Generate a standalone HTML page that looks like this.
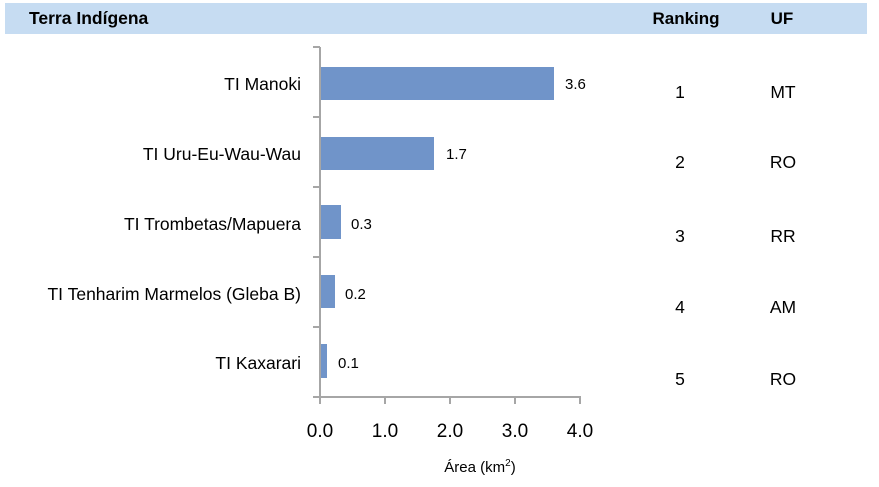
<!DOCTYPE html><html><head><style>
body{margin:0;width:879px;height:482px;background:#fff;overflow:hidden;font-family:"Liberation Sans",sans-serif;}
</style></head><body>
<svg width="879" height="482" xmlns="http://www.w3.org/2000/svg" font-family="Liberation Sans, sans-serif">
<rect x="5" y="3" width="862" height="31" fill="#c6dcf2"/>
<text x="29" y="24" font-size="17.5" font-weight="bold">Terra Indígena</text>
<text x="686" y="24" font-size="17" font-weight="bold" text-anchor="middle">Ranking</text>
<text x="782" y="24" font-size="17" font-weight="bold" text-anchor="middle">UF</text>
<g stroke="#a6a6a6" stroke-width="2" fill="none">
<path d="M320 47V397H581"/>
<path d="M313 47H320M313 117H320M313 187H320M313 257H320M313 327H320M313 397H320"/>
<path d="M320 397V404M385 397V404M450 397V404M515 397V404M580 397V404"/>
</g>
<g fill="#7094c9">
<rect x="321" y="67" width="233" height="33"/>
<rect x="321" y="137" width="113" height="33"/>
<rect x="321" y="205" width="20" height="34"/>
<rect x="321" y="275" width="14" height="33"/>
<rect x="321" y="344" width="6" height="34"/>
</g>
<g font-size="17.5" text-anchor="end">
<text x="301" y="90">TI Manoki</text>
<text x="301" y="160">TI Uru-Eu-Wau-Wau</text>
<text x="301" y="230">TI Trombetas/Mapuera</text>
<text x="301" y="300">TI Tenharim Marmelos (Gleba B)</text>
<text x="301" y="369">TI Kaxarari</text>
</g>
<g font-size="15">
<text x="565" y="89">3.6</text>
<text x="446" y="159">1.7</text>
<text x="351" y="229">0.3</text>
<text x="345" y="299">0.2</text>
<text x="338" y="368">0.1</text>
</g>
<g font-size="17.5" text-anchor="middle">
<text x="680" y="98">1</text><text x="783" y="98">MT</text>
<text x="680" y="168">2</text><text x="783" y="168">RO</text>
<text x="680" y="242">3</text><text x="783" y="242">RR</text>
<text x="680" y="313">4</text><text x="783" y="313">AM</text>
<text x="680" y="385">5</text><text x="783" y="385">RO</text>
</g>
<g font-size="19" text-anchor="middle">
<text x="320" y="437">0.0</text><text x="385" y="437">1.0</text><text x="450" y="437">2.0</text><text x="515" y="437">3.0</text><text x="580" y="437">4.0</text>
</g>
<text x="480" y="472" font-size="15" text-anchor="middle">Área (km<tspan font-size="10" dy="-6">2</tspan><tspan dy="6">)</tspan></text>
</svg>
</body></html>
